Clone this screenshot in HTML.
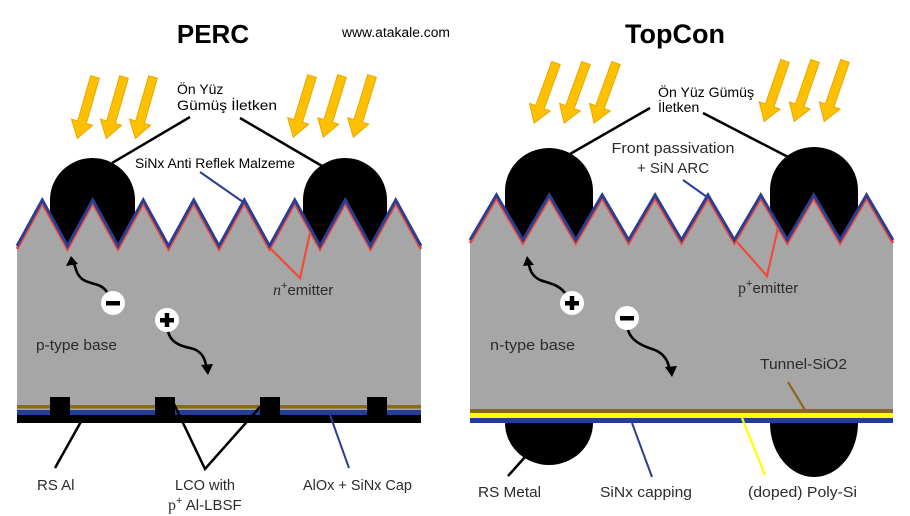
<!DOCTYPE html>
<html>
<head>
<meta charset="utf-8">
<style>
  html, body { margin:0; padding:0; background:#fff; }
  svg { display:block; }
  .ar { font-family:"Liberation Sans", Arial, sans-serif; fill:#000; }
  .cb { font-family:"Liberation Sans", Arial, sans-serif; fill:#2b2b2b; }
  .sr { font-family:"Liberation Serif", serif; fill:#2b2b2b; }
</style>
</head>
<body>
<svg width="910" height="516" viewBox="0 0 910 516" xmlns="http://www.w3.org/2000/svg">
  <defs>
    <g id="sun">
      <polygon points="-4.5,0 4.5,0 4.5,47 11,47 0,64 -11,47 -4.5,47" fill="#FFC000" stroke="#E8A800" stroke-width="1"/>
    </g>
  </defs>

  <!-- Titles -->
  <text x="213" y="43" text-anchor="middle" class="ar" font-weight="bold" font-size="26">PERC</text>
  <text x="675" y="43" text-anchor="middle" class="ar" font-weight="bold" font-size="27">TopCon</text>
  <text x="342" y="37" class="ar" font-size="13.5" textLength="108" lengthAdjust="spacingAndGlyphs">www.atakale.com</text>

  <!-- ============ LEFT PANEL (PERC) ============ -->
  <!-- sun arrows -->
  <use href="#sun" transform="translate(95,77) rotate(16)"/>
  <use href="#sun" transform="translate(124,77) rotate(16)"/>
  <use href="#sun" transform="translate(153,77) rotate(16)"/>
  <use href="#sun" transform="translate(312,76) rotate(17)"/>
  <use href="#sun" transform="translate(342,76) rotate(17)"/>
  <use href="#sun" transform="translate(372,76) rotate(17)"/>

  <!-- front contacts -->
  <path d="M50,250 L50,200 A42.5,42 0 0 1 135,200 L135,250 Z" fill="#000"/>
  <path d="M303,250 L303,200 A42,42 0 0 1 387,200 L387,250 Z" fill="#000"/>

  <!-- body -->
  <polygon fill="#A6A6A6" points="17,246 42.25,200 67.5,246 92.75,200 118,246 143.25,200 168.5,246 193.75,200 219,246 244.25,200 269.5,246 294.75,200 320,246 345.25,200 370.5,246 395.75,200 421,246 421,405 17,405"/>
  <polyline fill="none" stroke="#EE4B3B" stroke-width="3" transform="translate(0,3)" points="17,246 42.25,200 67.5,246 92.75,200 118,246 143.25,200 168.5,246 193.75,200 219,246 244.25,200 269.5,246 294.75,200 320,246 345.25,200 370.5,246 395.75,200 421,246"/>
  <polyline fill="none" stroke="#2A3F94" stroke-width="3" points="17,246 42.25,200 67.5,246 92.75,200 118,246 143.25,200 168.5,246 193.75,200 219,246 244.25,200 269.5,246 294.75,200 320,246 345.25,200 370.5,246 395.75,200 421,246"/>

  <!-- emitter lines -->
  <polyline fill="none" stroke="#EE4B3B" stroke-width="2.2" points="270,248 300,278 310,233"/>

  <!-- back layers -->
  <rect x="17" y="405" width="404" height="3.5" fill="#8A6A12"/>
  <rect x="17" y="408.5" width="404" height="1.5" fill="#A6A6A6"/>
  <rect x="17" y="410" width="404" height="5" fill="#233E96"/>
  <rect x="17" y="415" width="404" height="8" fill="#000"/>
  <rect x="50" y="397" width="20" height="18" fill="#000"/>
  <rect x="155" y="397" width="20" height="18" fill="#000"/>
  <rect x="260" y="397" width="20" height="18" fill="#000"/>
  <rect x="367" y="397" width="20" height="18" fill="#000"/>

  <!-- carriers -->
  <path d="M107,292 C100,282 90,285 82,279 C76,274 76,268 74,264" fill="none" stroke="#000" stroke-width="2.6"/>
  <polygon points="71,256 66,266 78,264" fill="#000"/>
  <circle cx="113" cy="303" r="12" fill="#fff"/>
  <rect x="106" y="301" width="14" height="4.5" fill="#000"/>

  <path d="M168,331 C170,342 180,346 190,348 C200,350 205,357 206,366" fill="none" stroke="#000" stroke-width="2.6"/>
  <polygon points="208,375 201,365 213,364" fill="#000"/>
  <circle cx="167" cy="320" r="12" fill="#fff"/>
  <rect x="160" y="318" width="14" height="4.5" fill="#000"/>
  <rect x="164.75" y="313" width="4.5" height="14" fill="#000"/>

  <!-- labels left -->
  <text x="177" y="94" class="ar" font-size="14">Ön Yüz</text>
  <text x="177" y="110" class="ar" font-size="14" textLength="100" lengthAdjust="spacingAndGlyphs">Gümüş İletken</text>
  <line x1="190" y1="117" x2="112" y2="163" stroke="#000" stroke-width="2.5"/>
  <line x1="240" y1="118" x2="322" y2="166" stroke="#000" stroke-width="2.5"/>
  <text x="135" y="168" class="ar" font-size="13.5" textLength="160" lengthAdjust="spacingAndGlyphs">SiNx Anti Reflek Malzeme</text>
  <line x1="200" y1="172" x2="243" y2="202" stroke="#2A3F94" stroke-width="2"/>

  <text x="273" y="295" class="cb" font-size="15"><tspan class="sr" font-style="italic" font-size="16">n</tspan><tspan font-size="11" dy="-6">+</tspan><tspan dy="6">emitter</tspan></text>
  <text x="36" y="350" class="cb" font-size="15" textLength="81" lengthAdjust="spacingAndGlyphs">p-type base</text>

  <line x1="55" y1="468" x2="83" y2="418" stroke="#000" stroke-width="2.5"/>
  <polyline fill="none" stroke="#000" stroke-width="2.5" points="173,402 205,469 260,407"/>
  <line x1="349" y1="468" x2="330" y2="415" stroke="#2A3F94" stroke-width="2"/>

  <text x="37" y="490" class="cb" font-size="15">RS Al</text>
  <text x="175" y="490" class="cb" font-size="15" textLength="60" lengthAdjust="spacingAndGlyphs">LCO with</text>
  <text x="168" y="510" class="cb" font-size="15"><tspan class="sr" font-size="16">p</tspan><tspan font-size="11" dy="-6">+</tspan><tspan dy="6"> Al-LBSF</tspan></text>
  <text x="303" y="490" class="cb" font-size="15" textLength="109" lengthAdjust="spacingAndGlyphs">AlOx + SiNx Cap</text>

  <!-- ============ RIGHT PANEL (TopCon) ============ -->
  <use href="#sun" transform="translate(556,63) rotate(20)"/>
  <use href="#sun" transform="translate(586,63) rotate(20)"/>
  <use href="#sun" transform="translate(616,63) rotate(20)"/>
  <use href="#sun" transform="translate(785,61) rotate(19)"/>
  <use href="#sun" transform="translate(815,61) rotate(19)"/>
  <use href="#sun" transform="translate(845,61) rotate(19)"/>

  <!-- front contacts -->
  <path d="M505,245 L505,191 A44,43 0 0 1 593,191 L593,245 Z" fill="#000"/>
  <path d="M770,245 L770,190 A44,43 0 0 1 858,190 L858,245 Z" fill="#000"/>

  <!-- rear contacts -->
  <ellipse cx="549" cy="423" rx="44" ry="42" fill="#000"/>
  <ellipse cx="814" cy="423" rx="44" ry="54" fill="#000"/>

  <polygon fill="#A6A6A6" points="470,240 496.44,195 522.88,240 549.31,195 575.75,240 602.19,195 628.63,240 655.06,195 681.5,240 707.94,195 734.38,240 760.81,195 787.25,240 813.69,195 840.13,240 866.56,195 893,240 893,409 470,409"/>
  <polyline fill="none" stroke="#EE4B3B" stroke-width="3" transform="translate(0,3)" points="470,240 496.44,195 522.88,240 549.31,195 575.75,240 602.19,195 628.63,240 655.06,195 681.5,240 707.94,195 734.38,240 760.81,195 787.25,240 813.69,195 840.13,240 866.56,195 893,240"/>
  <polyline fill="none" stroke="#2A3F94" stroke-width="3" points="470,240 496.44,195 522.88,240 549.31,195 575.75,240 602.19,195 628.63,240 655.06,195 681.5,240 707.94,195 734.38,240 760.81,195 787.25,240 813.69,195 840.13,240 866.56,195 893,240"/>

  <polyline fill="none" stroke="#EE4B3B" stroke-width="2.2" points="737,242 767,276 778,228"/>

  <!-- back layers -->
  <rect x="470" y="409" width="423" height="4" fill="#8A6A12"/>
  <rect x="470" y="413" width="423" height="5" fill="#FFFF00"/>
  <rect x="470" y="418" width="423" height="5" fill="#233E96"/>

  <!-- carriers -->
  <path d="M565,293 C558,284 548,283 540,280 C532,276 530,270 529,265" fill="none" stroke="#000" stroke-width="2.6"/>
  <polygon points="527,256 523,266 534,265" fill="#000"/>
  <circle cx="572" cy="303" r="12" fill="#fff"/>
  <rect x="565" y="301" width="14" height="4.5" fill="#000"/>
  <rect x="569.75" y="296" width="4.5" height="14" fill="#000"/>

  <path d="M628,330 C631,340 640,345 652,349 C662,352 667,358 669,367" fill="none" stroke="#000" stroke-width="2.6"/>
  <polygon points="672,377 665,367 677,366" fill="#000"/>
  <circle cx="627" cy="318" r="12" fill="#fff"/>
  <rect x="620" y="316" width="14" height="4.5" fill="#000"/>

  <!-- labels right -->
  <text x="658" y="97" class="ar" font-size="14" textLength="96" lengthAdjust="spacingAndGlyphs">Ön Yüz Gümüş</text>
  <text x="658" y="112" class="ar" font-size="14">İletken</text>
  <line x1="650" y1="108" x2="570" y2="154" stroke="#000" stroke-width="2.5"/>
  <line x1="703" y1="113" x2="790" y2="158" stroke="#000" stroke-width="2.5"/>
  <text x="673" y="153" text-anchor="middle" class="cb" font-size="15" textLength="123" lengthAdjust="spacingAndGlyphs">Front passivation</text>
  <text x="673" y="173" text-anchor="middle" class="cb" font-size="15">+ SiN ARC</text>
  <line x1="683" y1="180" x2="707" y2="197" stroke="#2A3F94" stroke-width="2"/>

  <text x="738" y="293" class="cb" font-size="15"><tspan class="sr" font-size="16">p</tspan><tspan font-size="11" dy="-6">+</tspan><tspan dy="6">emitter</tspan></text>
  <text x="490" y="350" class="cb" font-size="15" textLength="85" lengthAdjust="spacingAndGlyphs">n-type base</text>
  <text x="760" y="369" class="cb" font-size="15" textLength="87" lengthAdjust="spacingAndGlyphs">Tunnel-SiO2</text>
  <line x1="788" y1="382" x2="805" y2="410" stroke="#8A6A12" stroke-width="2.2"/>

  <line x1="508" y1="476" x2="525" y2="457" stroke="#000" stroke-width="2.5"/>
  <line x1="652" y1="477" x2="632" y2="423" stroke="#2A3F94" stroke-width="2"/>
  <line x1="765" y1="475" x2="742" y2="418" stroke="#FFFF00" stroke-width="2.2"/>

  <text x="478" y="497" class="cb" font-size="15" textLength="63" lengthAdjust="spacingAndGlyphs">RS Metal</text>
  <text x="600" y="497" class="cb" font-size="15" textLength="92" lengthAdjust="spacingAndGlyphs">SiNx capping</text>
  <text x="748" y="497" class="cb" font-size="15" textLength="109" lengthAdjust="spacingAndGlyphs">(doped) Poly-Si</text>
</svg>
</body>
</html>
